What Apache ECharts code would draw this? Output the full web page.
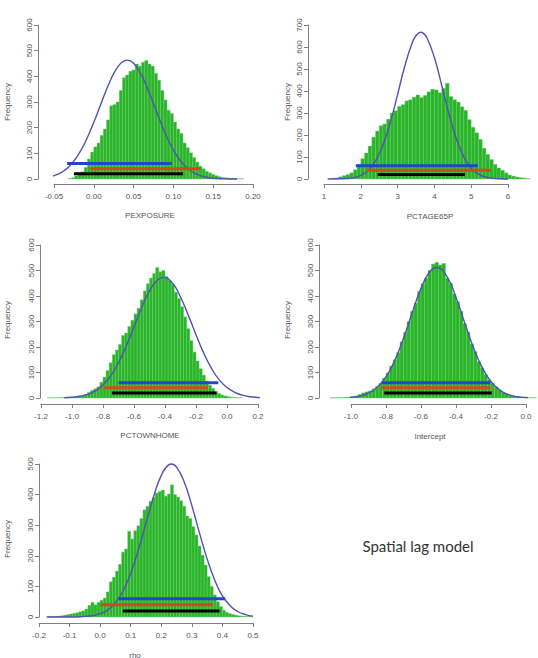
<!DOCTYPE html>
<html><head><meta charset="utf-8">
<script src="https://cdn.jsdelivr.net/npm/echarts@6/dist/echarts.min.js"></script>
<style>html,body{margin:0;padding:0;background:#fff;}#c{width:538px;height:658px;}</style>
</head><body><div id="c"></div>
<script>
// ---------- PEXPOSURE ----------
const pexBinStart = -0.032, pexBinWidth = 0.004;
const pexCounts = [2,5,12,18,28,45,78,105,125,140, 170,195,230,285,290,300,345,395,405,420,
  425,448,440,455,462,448,440,412,385,345, 308,268,255,222,195,178,140,122,102,84,
  66,50,40,30,24,18,13,9,6,5, 4,3,2,1,1];
const pexCurve = [[-0.07,2],[-0.06,6],[-0.05,13],[-0.04,27],[-0.03,52],[-0.02,92],[-0.01,149],[0,221],[0.01,301],
  [0.02,378],[0.03,436],[0.04,462],[0.042,463],[0.05,451],[0.06,404],[0.07,333],[0.08,253],[0.09,176],[0.10,113],
  [0.11,66],[0.12,36],[0.13,18],[0.14,8],[0.15,3],[0.16,1],[0.17,0],[0.18,0]];
const pexIntervals = [[-0.0335,0.098,60],[-0.0045,0.1336,40],[-0.025,0.112,20]];
const pexXTicks = [-0.05,0,0.05,0.10,0.15,0.20];
const pexYTicks = [0,100,200,300,400,500,600];

// ---------- PCTAGE65P ----------
const ageBinStart = 1.2, ageBinWidth = 0.1;
const ageCounts = [2,5,10,15,20,28,42,65,92,118, 150,190,218,242,250,272,300,310,330,338,
  355,360,372,382,370,380,396,408,405,392, 412,435,375,360,350,328,312,270,235,210,
  180,140,112,88,66,50,40,28,18,13, 9,6,4,2];
const ageCurve = [[1.1,0],[1.4,1],[1.6,2],[1.8,6],[2.0,17],[2.2,39],[2.4,82],[2.6,153],[2.8,256],[3.0,384],
  [3.2,516],[3.4,620],[3.5,651],[3.63,667],[3.7,662],[3.8,641],[4.0,552],[4.2,425],[4.4,293],[4.6,181],[4.8,100],
  [5.0,49],[5.2,22],[5.4,9],[5.6,3],[5.8,1],[6.0,0]];
const ageIntervals = [[1.864,5.18,60],[2.155,5.52,40],[2.46,4.83,20]];
const ageXTicks = [1,2,3,4,5,6];
const ageYTicks = [0,100,200,300,400,500,600,700];

// ---------- PCTOWNHOME ----------
const ownBinStart = -1.16, ownBinWidth = 0.02;
const ownCounts = [1,1,1,1,2,2,3,3,4,6, 8,10,14,22,30,36,44,62,82,108,
  138,170,188,210,245,255,280,305,330,352, 385,420,448,470,488,512,495,500,476,462,
  446,415,390,358,318,272,225,180,145,115, 90,66,50,38,26,18,12,8,5,3, 2,1,1];
const ownCurve = [[-1.05,1],[-1.0,3],[-0.95,7],[-0.9,14],[-0.85,28],[-0.8,51],[-0.75,87],[-0.7,138],[-0.65,204],
  [-0.6,279],[-0.55,355],[-0.5,420],[-0.45,462],[-0.41,473],[-0.35,449],[-0.3,396],[-0.25,325],[-0.2,248],
  [-0.15,176],[-0.1,116],[-0.05,71],[0.0,41],[0.05,22],[0.1,11],[0.15,5],[0.2,2],[0.22,1]];
const ownIntervals = [[-0.70,-0.056,60],[-0.79,-0.125,40],[-0.742,-0.068,20]];
const ownXTicks = [-1.2,-1.0,-0.8,-0.6,-0.4,-0.2,0.0,0.2];
const ownYTicks = [0,100,200,300,400,500,600];

// ---------- Intercept ----------
const intBinStart = -1.12, intBinWidth = 0.02;
const intCounts = [1,1,2,2,3,4,5,8,14,20, 24,28,36,46,58,78,98,125,150,178,
  220,258,300,340,372,418,448,470,500,525, 532,522,528,470,450,408,378,340,292,258,
  212,182,142,118,92,72,58,44,32,22, 16,11,8,6,4,3,2,1,1];
const intCurve = [[-1.12,0],[-1.05,1],[-1.0,3],[-0.95,8],[-0.9,19],[-0.85,42],[-0.8,83],[-0.75,147],[-0.7,234],
  [-0.65,335],[-0.6,430],[-0.55,495],[-0.51,512],[-0.45,474],[-0.4,394],[-0.35,294],[-0.3,197],[-0.25,119],
  [-0.2,64],[-0.15,31],[-0.1,13],[-0.05,5],[0.0,2],[0.05,1]];
const intIntervals = [[-0.826,-0.205,60],[-0.826,-0.205,40],[-0.81,-0.196,20]];
const intXTicks = [-1.0,-0.8,-0.6,-0.4,-0.2,0.0];
const intYTicks = [0,100,200,300,400,500,600];

// ---------- rho ----------
const rhoBinStart = -0.17, rhoBinWidth = 0.01;
const rhoCounts = [1,2,2,3,4,6,8,10,12,14, 17,20,26,38,48,40,48,55,62,82,
  115,130,150,172,212,222,280,255,282,298, 322,350,362,378,390,405,410,415,395,402,
  432,400,392,380,362,330,322,295,268,232, 202,170,132,100,72,50,34,22,15,11,
  8,6,4,3,2,2,1];
const rhoCurve = [[-0.175,0],[-0.1,0],[-0.05,2],[-0.025,4],[0,11],[0.025,23],[0.05,47],[0.075,85],[0.1,143],
  [0.125,219],[0.15,307],[0.175,394],[0.2,463],[0.225,498],[0.233,500],[0.25,490],[0.275,441],[0.3,364],
  [0.325,274],[0.35,190],[0.375,120],[0.4,69],[0.425,37],[0.45,18],[0.475,8],[0.5,3]];
const rhoIntervals = [[0.06,0.409,60],[0.0,0.369,40],[0.074,0.391,20]];
const rhoXTicks = [-0.2,-0.1,0.0,0.1,0.2,0.3,0.4,0.5];
const rhoYTicks = [0,100,200,300,400,500];

const xTitles = ['PEXPOSURE','PCTAGE65P','PCTOWNHOME','Intercept','rho'];
const yTitle = 'Frequency';
const noteText = 'Spatial lag model';

// ---------- layout (pixels) ----------
const layouts = [
  {left:54, top:25, width:199, height:154, yOff:16, xOff:5, freq:[7,102], title:[150,215], dec:2},
  {left:324, top:25, width:184, height:154, yOff:16, xOff:5, freq:[287,102], title:[430,216], dec:0},
  {left:41, top:245, width:217, height:153, yOff:1, xOff:6, freq:[7,320], title:[150,435], dec:1},
  {left:351, top:245, width:175, height:153, yOff:32, xOff:6, freq:[287,320], title:[430,436], dec:1},
  {left:39, top:464, width:214, height:153, yOff:0, xOff:6, freq:[7,539], title:[135,655], dec:1}
];
const panelData = [
  [pexBinStart,pexBinWidth,pexCounts,pexCurve,pexIntervals,pexXTicks,pexYTicks],
  [ageBinStart,ageBinWidth,ageCounts,ageCurve,ageIntervals,ageXTicks,ageYTicks],
  [ownBinStart,ownBinWidth,ownCounts,ownCurve,ownIntervals,ownXTicks,ownYTicks],
  [intBinStart,intBinWidth,intCounts,intCurve,intIntervals,intXTicks,intYTicks],
  [rhoBinStart,rhoBinWidth,rhoCounts,rhoCurve,rhoIntervals,rhoXTicks,rhoYTicks]
];

const FONT = 'Liberation Sans, Arial, sans-serif';
const axisGray = '#808080';
const textGray = '#555';
const segColors = ['#1f47c8','#cf4a1c','#000000'];

const grids = [], xAxes = [], yAxes = [], series = [], graphics = [];
panelData.forEach((pd, i) => {
  const [b0, bw, counts, curve, intervals, xt, yt] = pd;
  const L = layouts[i];
  grids.push({left:L.left, top:L.top, width:L.width, height:L.height, containLabel:false, outerBoundsMode:'none'});
  const dec = L.dec;
  xAxes.push({type:'value', gridIndex:i, min:xt[0], max:xt[xt.length-1], interval:xt[1]-xt[0], offset:L.xOff,
    axisLine:{show:true, onZero:false, lineStyle:{color:axisGray, width:1}},
    axisTick:{show:true, length:4, lineStyle:{color:axisGray}},
    axisLabel:{fontSize:8, color:textGray, margin:8, fontFamily:FONT,
      formatter:v => { if (Math.abs(v) < 1e-9) v = 0; return v.toFixed(dec); }},
    splitLine:{show:false}});
  yAxes.push({type:'value', gridIndex:i, min:yt[0], max:yt[yt.length-1], interval:yt[1]-yt[0], offset:L.yOff,
    axisLine:{show:true, onZero:false, lineStyle:{color:axisGray, width:1}},
    axisTick:{show:true, length:4, lineStyle:{color:axisGray}},
    axisLabel:{fontSize:8, color:textGray, margin:5, rotate:90, fontFamily:FONT},
    splitLine:{show:false}});
  const hist = counts.map((c, k) => [b0 + k*bw, b0 + (k+1)*bw, c]);
  series.push({type:'custom', xAxisIndex:i, yAxisIndex:i, clip:false, z:1, silent:true,
    data:hist, encode:{x:[0,1], y:2},
    renderItem:(params, api) => {
      const p0 = api.coord([api.value(0), 0]);
      const p1 = api.coord([api.value(1), api.value(2)]);
      return {type:'rect', shape:{x:p0[0], y:p1[1], width:p1[0]-p0[0], height:p0[1]-p1[1]},
        style:{fill:'#29b429', stroke:'#6fcf6f', lineWidth:0.4}};
    }});
  series.push({type:'line', xAxisIndex:i, yAxisIndex:i, data:curve, smooth:true, showSymbol:false, clip:false, z:2,
    lineStyle:{color:'#5252b4', width:1.4}, silent:true});
  intervals.forEach((iv, k) => {
    series.push({type:'line', xAxisIndex:i, yAxisIndex:i, data:[[iv[0],iv[2]],[iv[1],iv[2]]], showSymbol:false,
      clip:false, z:3, silent:true, lineStyle:{color:segColors[k], width:3, cap:'butt'}});
  });
  graphics.push({type:'text', x:L.freq[0], y:L.freq[1], rotation:Math.PI/2,
    style:{text:yTitle, fontSize:8, fill:textGray, align:'center', verticalAlign:'middle', fontFamily:FONT}});
  graphics.push({type:'text', x:L.title[0], y:L.title[1],
    style:{text:xTitles[i], fontSize:8, fill:textGray, align:'center', verticalAlign:'middle', fontFamily:FONT}});
});
graphics.push({type:'text', x:418, y:546,
  style:{text:noteText, fontSize:15, fill:'#333', align:'center', verticalAlign:'middle', fontFamily:'Lato, Open Sans, sans-serif'}});

const chart = echarts.init(document.getElementById('c'), null, {renderer:'svg'});
chart.setOption({animation:false, backgroundColor:'#fff', grid:grids, xAxis:xAxes, yAxis:yAxes, series:series,
  graphic:{elements:graphics}});
</script></body></html>
